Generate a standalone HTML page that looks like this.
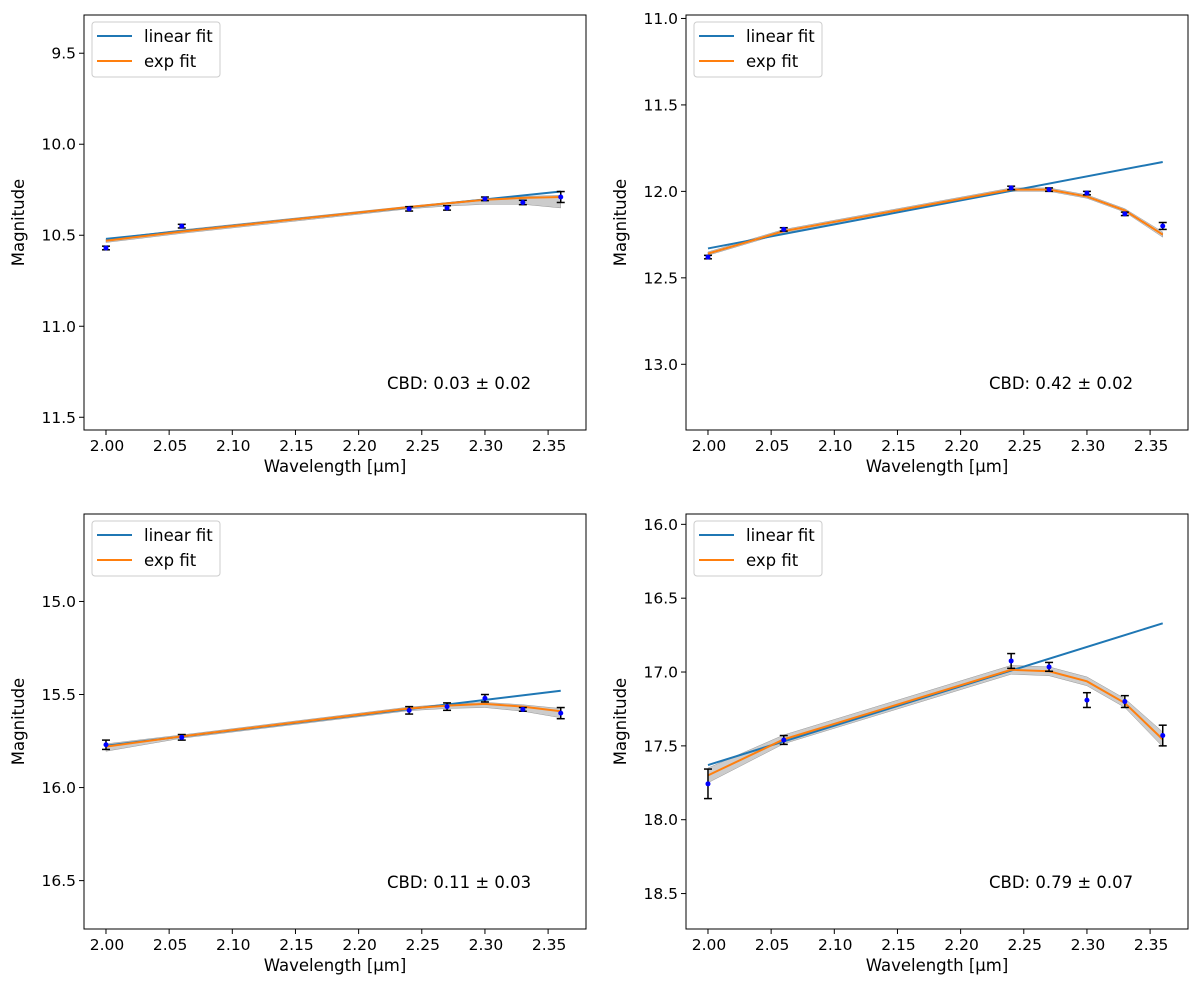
<!DOCTYPE html>
<html><head><meta charset="utf-8">
<style>
body{margin:0;background:#fff;font-family:"Liberation Sans","DejaVu Sans",sans-serif;}
svg text{font-family:"DejaVu Sans","Liberation Sans",sans-serif;}
</style></head>
<body>
<svg id="fig" width="1200" height="992" viewBox="0 0 1200 992" xmlns="http://www.w3.org/2000/svg"></svg>
<script>
const wavelengths = [2.00, 2.06, 2.24, 2.27, 2.30, 2.33, 2.36];
const xTicks = [2.00, 2.05, 2.10, 2.15, 2.20, 2.25, 2.30, 2.35];

const obsA = [10.57, 10.45, 10.355, 10.35, 10.30, 10.32, 10.29];
const errA = [0.01, 0.01, 0.012, 0.012, 0.01, 0.012, 0.03];
const linA = [10.52, 10.26];
const expA = [10.53, 10.48, 10.345, 10.325, 10.305, 10.295, 10.29];
const bandLoA = [0.01, 0.01, 0.01, 0.015, 0.025, 0.035, 0.06];
const bandHiA = [0.01, 0.01, 0.005, 0.005, 0.005, 0.008, 0.01];
const ticksA = [9.5, 10.0, 10.5, 11.0, 11.5];

const obsB = [12.38, 12.22, 11.98, 11.99, 12.01, 12.13, 12.20];
const errB = [0.01, 0.01, 0.01, 0.01, 0.01, 0.01, 0.02];
const linB = [12.33, 11.83];
const expB = [12.36, 12.23, 11.99, 11.99, 12.03, 12.11, 12.25];
const bandLoB = [0.01, 0.01, 0.01, 0.01, 0.01, 0.01, 0.015];
const bandHiB = [0.01, 0.01, 0.01, 0.01, 0.01, 0.01, 0.015];
const ticksB = [11.0, 11.5, 12.0, 12.5, 13.0];

const obsC = [15.77, 15.73, 15.585, 15.565, 15.52, 15.58, 15.60];
const errC = [0.025, 0.015, 0.02, 0.02, 0.02, 0.01, 0.03];
const linC = [15.775, 15.48];
const expC = [15.78, 15.725, 15.575, 15.56, 15.55, 15.565, 15.59];
const bandLoC = [0.025, 0.01, 0.012, 0.015, 0.02, 0.025, 0.035];
const bandHiC = [0.015, 0.008, 0.008, 0.008, 0.008, 0.01, 0.015];
const ticksC = [15.0, 15.5, 16.0, 16.5];

const obsD = [17.757, 17.46, 16.925, 16.965, 17.19, 17.20, 17.43];
const errD = [0.1, 0.03, 0.05, 0.03, 0.05, 0.04, 0.07];
const linD = [17.63, 16.67];
const expD = [17.70, 17.456, 16.985, 16.995, 17.063, 17.21, 17.456];
const bandLoD = [0.05, 0.03, 0.03, 0.03, 0.03, 0.03, 0.05];
const bandHiD = [0.05, 0.03, 0.03, 0.03, 0.03, 0.03, 0.05];
const ticksD = [16.0, 16.5, 17.0, 17.5, 18.0, 18.5];

const cbdLabels = ["CBD: 0.03 ± 0.02", "CBD: 0.42 ± 0.02", "CBD: 0.11 ± 0.03", "CBD: 0.79 ± 0.07"];

const NS = "http://www.w3.org/2000/svg";
const svg = document.getElementById('fig');
function mk(tag, attrs, parent){
  const e = document.createElementNS(NS, tag);
  for (const k in attrs) e.setAttribute(k, attrs[k]);
  (parent||svg).appendChild(e);
  return e;
}
const TICK_FS = 15.5, LAB_FS = 16.5;

function panel(id, L, T, obs, err, lin, expv, bLo, bHi, yt, ymin, ymax, cbd){
  const R = L + 502, B = T + 415;
  const xmin = 1.9826, xmax = 2.380;
  const sx = v => L + (v - xmin) / (xmax - xmin) * (R - L);
  const sy = v => T + (v - ymin) / (ymax - ymin) * (B - T);
  const g = mk('g', {});
  
  
  let pts = wavelengths.map((w,i)=>sx(w)+','+sy(expv[i]-bHi[i]));
  pts = pts.concat(wavelengths.slice().reverse().map((w,j)=>{const i=wavelengths.length-1-j;return sx(w)+','+sy(expv[i]+bLo[i]);}));
  const bd = mk('polygon', {points: pts.join(' '), fill:'#000', 'fill-opacity':0.2, stroke:'#999', 'stroke-width':0.5}, g);
  
  
  const lf = mk('line', {x1:sx(wavelengths[0]), y1:sy(lin[0]), x2:sx(wavelengths[wavelengths.length-1]), y2:sy(lin[1]), stroke:'#1f77b4', 'stroke-width':2}, g);
  
  
  const ef = mk('polyline', {points: wavelengths.map((w,i)=>sx(w)+','+sy(expv[i])).join(' '), fill:'none', stroke:'#ff7f0e', 'stroke-width':2}, g);
  
  
  wavelengths.forEach((w,i)=>{
    const x = sx(w), y1 = sy(obs[i]-err[i]), y2 = sy(obs[i]+err[i]);
    const eb = mk('g', {stroke:'#000', 'stroke-width':1.5}, g);
    
    
    mk('line', {x1:x, y1:y1, x2:x, y2:y2}, eb);
    mk('line', {x1:x-4, y1:y1, x2:x+4, y2:y1}, eb);
    mk('line', {x1:x-4, y1:y2, x2:x+4, y2:y2}, eb);
    const p = mk('circle', {cx:x, cy:sy(obs[i]), r:2.5, fill:'#0000ff'}, g);
    
    
  });
  const fr = mk('rect', {x:L, y:T, width:R-L, height:B-T, fill:'none', stroke:'#000', 'stroke-width':1}, g);
  
  
  xTicks.forEach(v=>{
    const x = sx(v);
    mk('line', {x1:x, y1:B, x2:x, y2:B+5, stroke:'#000'}, g);
    const t = mk('text', {x:x+1, y:B+21, 'font-size':TICK_FS, 'text-anchor':'middle'}, g);
    t.textContent = v.toFixed(2);
    
    
  });
  yt.forEach(v=>{
    const y = sy(v);
    mk('line', {x1:L-5, y1:y, x2:L, y2:y, stroke:'#000'}, g);
    const t = mk('text', {x:L-8, y:y+5.5, 'font-size':TICK_FS, 'text-anchor':'end'}, g);
    t.textContent = v.toFixed(1);
    
    
  });
  const xl = mk('text', {x:(L+R)/2, y:B+42, 'font-size':LAB_FS, 'text-anchor':'middle'}, g);
  xl.textContent = 'Wavelength [µm]';
  
  
  const yl = mk('text', {x:0, y:0, 'font-size':LAB_FS, 'text-anchor':'middle', transform:`translate(${L-60},${(T+B)/2}) rotate(-90)`}, g);
  yl.textContent = 'Magnitude';
  
  
  const ct = mk('text', {x:L+303, y:T+374, 'font-size':LAB_FS}, g);
  ct.textContent = cbd;
  
  
  const lg = mk('g', {}, g);
  
  
  mk('rect', {x:L+8, y:T+7, width:128, height:55, rx:3, fill:'#fff', 'fill-opacity':0.8, stroke:'#ccc'}, lg);
  mk('line', {x1:L+13, y1:T+21, x2:L+48, y2:T+21, stroke:'#1f77b4', 'stroke-width':2}, lg);
  const t1 = mk('text', {x:L+60, y:T+27, 'font-size':LAB_FS}, lg); t1.textContent = 'linear fit';
  
  
  mk('line', {x1:L+13, y1:T+46, x2:L+48, y2:T+46, stroke:'#ff7f0e', 'stroke-width':2}, lg);
  const t2 = mk('text', {x:L+60, y:T+52, 'font-size':LAB_FS}, lg); t2.textContent = 'exp fit';
  
  
}

panel('top-left', 84, 15, obsA, errA, linA, expA, bandLoA, bandHiA, ticksA, 9.29, 11.57, cbdLabels[0]);
panel('top-right', 686, 15, obsB, errB, linB, expB, bandLoB, bandHiB, ticksB, 10.98, 13.38, cbdLabels[1]);
panel('bottom-left', 84, 514, obsC, errC, linC, expC, bandLoC, bandHiC, ticksC, 14.53, 16.76, cbdLabels[2]);
panel('bottom-right', 686, 514, obsD, errD, linD, expD, bandLoD, bandHiD, ticksD, 15.93, 18.74, cbdLabels[3]);
</script>
</body></html>
